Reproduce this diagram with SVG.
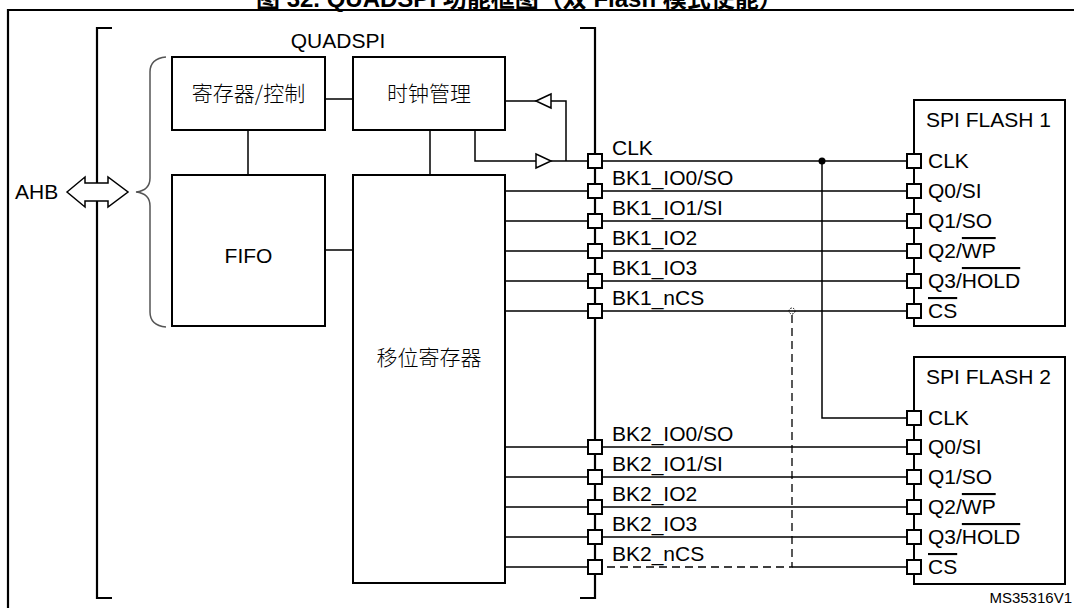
<svg xmlns="http://www.w3.org/2000/svg" width="1074" height="608" viewBox="0 0 1074 608">
<style>
text{font-family:"Liberation Sans","Noto Sans CJK SC",Arial,sans-serif;font-size:21px;fill:#000}
.cjk{font-family:"Noto Sans CJK SC","Liberation Sans",sans-serif;font-size:21px;font-weight:300}
.box{fill:#fff;stroke:#000;stroke-width:2}
.ln{fill:none;stroke:#000;stroke-width:1.5}
.thick{fill:none;stroke:#000;stroke-width:2.2}
.pin{fill:#fff;stroke:#000;stroke-width:2}
.tri{fill:#fff;stroke:#000;stroke-width:1.5}
.dash{fill:none;stroke:#000;stroke-width:1.3;stroke-dasharray:8 5}
.ov{text-decoration:overline}
</style>
<defs>
<rect id="p" class="pin" x="-7" y="-7" width="14" height="14"/>
</defs>
<text x="256" y="7" style="font-weight:bold;font-size:24px">图 32. QUADSPI 功能框图（双 Flash 模式使能）</text>
<path class="thick" d="M8,608 V10 H1074"/>
<g id="connectors">
<path class="ln" d="M248,130 V175 M325,99 H353 M430,130 V175 M325,250 H353"/>
<path class="ln" d="M505,101 H536 M551,101 H566 V161 M475,130 V161 H536 M551,161 H914"/>
<path class="ln" d="M505,191 H914 M505,221 H914 M505,251 H914 M505,281 H914 M505,311 H914"/>
<path class="ln" d="M505,447 H914 M505,477 H914 M505,507 H914 M505,537 H914 M505,567 H595 M792,567 H914"/>
<path class="ln" d="M822,161 V418 H914"/>
<circle cx="822" cy="161" r="3.5" fill="#000"/>
<circle cx="792" cy="311" r="3" fill="none" stroke="#000" stroke-width="1" stroke-dasharray="1.5 1.5"/>
<path class="dash" d="M792,315 V567 H600"/>
<polygon class="tri" points="536,101 551,94 551,108"/>
<polygon class="tri" points="536,154 536,168 551,161"/>
</g>
<g id="quadspi">
<path class="thick" d="M112,28 H97 V598 H112"/>
<path class="thick" d="M580,28 H595 V598 H580"/>
<text x="338" y="48" text-anchor="middle">QUADSPI</text>
<path d="M166,57 C156,58 150,63 150,72 L150,178 C150,187 145,191 136,192 C145,193 150,197 150,206 L150,312 C150,321 156,326 166,327" fill="none" stroke="#555" stroke-width="1.5"/>
</g>
<g id="ahb">
<polygon fill="#fff" stroke="#000" stroke-width="1.5" points="67,192 85,177 85,183 108,183 108,177 128,192 108,207 108,201 85,201 85,207"/>
<text x="15" y="199">AHB</text>
</g>
<g id="reg">
<rect class="box" x="172" y="57" width="153" height="73"/>
<text class="cjk" x="248.5" y="101" text-anchor="middle">寄存器/控制</text>
</g>
<g id="clk">
<rect class="box" x="353" y="57" width="152" height="73"/>
<text class="cjk" x="429" y="101" text-anchor="middle">时钟管理</text>
</g>
<g id="fifo">
<rect class="box" x="172" y="175" width="153" height="151"/>
<text x="248.5" y="263" text-anchor="middle">FIFO</text>
</g>
<g id="shift">
<rect class="box" x="353" y="175" width="152" height="408"/>
<text class="cjk" x="429" y="365" text-anchor="middle">移位寄存器</text>
</g>
<g id="pins">
<use href="#p" x="595" y="161"/><use href="#p" x="595" y="191"/><use href="#p" x="595" y="221"/>
<use href="#p" x="595" y="251"/><use href="#p" x="595" y="281"/><use href="#p" x="595" y="311"/>
<use href="#p" x="595" y="447"/><use href="#p" x="595" y="477"/><use href="#p" x="595" y="507"/>
<use href="#p" x="595" y="537"/><use href="#p" x="595" y="567"/>
<text x="612" y="155">CLK</text>
<text x="612" y="185">BK1_IO0/SO</text>
<text x="612" y="215">BK1_IO1/SI</text>
<text x="612" y="245">BK1_IO2</text>
<text x="612" y="275">BK1_IO3</text>
<text x="612" y="305">BK1_nCS</text>
<text x="612" y="441">BK2_IO0/SO</text>
<text x="612" y="471">BK2_IO1/SI</text>
<text x="612" y="501">BK2_IO2</text>
<text x="612" y="531">BK2_IO3</text>
<text x="612" y="561">BK2_nCS</text>
</g>
<g id="flash1">
<rect class="box" x="914" y="100" width="151" height="226"/>
<text x="926" y="127">SPI FLASH 1</text>
<use href="#p" x="914" y="161"/><use href="#p" x="914" y="191"/><use href="#p" x="914" y="221"/>
<use href="#p" x="914" y="251"/><use href="#p" x="914" y="281"/><use href="#p" x="914" y="311"/>
<text x="928" y="168">CLK</text>
<text x="928" y="198">Q0/SI</text>
<text x="928" y="228">Q1/SO</text>
<text x="928" y="258">Q2/<tspan class="ov">WP</tspan></text>
<text x="928" y="288">Q3/<tspan class="ov">HOLD</tspan></text>
<text x="928" y="318"><tspan class="ov">CS</tspan></text>
</g>
<g id="flash2">
<rect class="box" x="914" y="357" width="151" height="227"/>
<text x="926" y="384">SPI FLASH 2</text>
<use href="#p" x="914" y="418"/><use href="#p" x="914" y="447"/><use href="#p" x="914" y="477"/>
<use href="#p" x="914" y="507"/><use href="#p" x="914" y="537"/><use href="#p" x="914" y="567"/>
<text x="928" y="425">CLK</text>
<text x="928" y="454">Q0/SI</text>
<text x="928" y="484">Q1/SO</text>
<text x="928" y="514">Q2/<tspan class="ov">WP</tspan></text>
<text x="928" y="544">Q3/<tspan class="ov">HOLD</tspan></text>
<text x="928" y="574"><tspan class="ov">CS</tspan></text>
</g>
<text x="1072" y="603" text-anchor="end" style="font-size:15px">MS35316V1</text>
</svg>
